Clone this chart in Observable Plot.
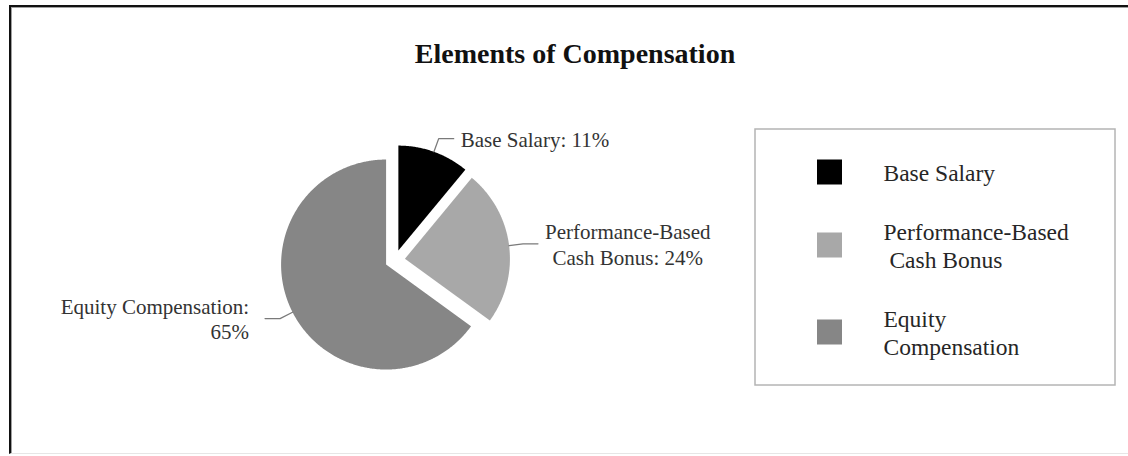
<!DOCTYPE html>
<html><head><meta charset="utf-8">
<script src="https://cdn.jsdelivr.net/npm/d3@7"></script>
<script src="https://cdn.jsdelivr.net/npm/@observablehq/plot@0.6"></script>
<style>
html,body{margin:0;padding:0;background:#fff;}
#wrap{position:relative;width:1128px;height:456px;overflow:hidden;background:#fff;}
#chart{position:absolute;left:0;top:0;}
#frame{position:absolute;left:9px;top:5px;width:1200px;height:449px;box-sizing:border-box;border-top:2px solid #111;border-left:2px solid #111;border-bottom:1px solid #e6e6e6;}
#frame2{position:absolute;left:11px;top:7px;width:1200px;height:445px;border-top:1px solid #a0a0a0;border-left:1px solid #a0a0a0;}
#title{position:absolute;left:0;width:1150px;top:38px;text-align:center;font:bold 28px/32px "Liberation Serif","Times New Roman",serif;color:#111;}
</style></head>
<body>
<div id="wrap"><div id="chart"></div><div id="frame"></div><div id="frame2"></div><div id="title">Elements of Compensation</div></div>
<script>
// ---- data ----
const categories = ["Base Salary", "Performance-Based Cash Bonus", "Equity Compensation"];
const values = [11, 24, 65];
const sliceLabels = ["Base Salary: 11%", "Performance-Based\nCash Bonus: 24%", "Equity Compensation:\n65%"];
const legendLabels = ["Base Salary", "Performance-Based\n\u00a0Cash Bonus", "Equity\nCompensation"];
const colors = ["#000000", "#a8a8a8", "#868686"];

// ---- layout / style ----
const W = 1128, H = 456;
const CX = 394.5, CY = 259.5, R = 105, EXPLODE = 10;
const LEADER_OUT = 14, LEADER_RUN = 15, GAP_R = 7, GAP_L = 16;
const LABEL_FONT = 21, LEGEND_FONT = 23.5;
const FONT = '"Liberation Serif", "Times New Roman", serif';
const LG = {x1: 755, y1: 129, x2: 1115, y2: 385, swX: 817, sw: 25, textX: 883, rowGap: 31, lineH: 28, top: 142.5};

const data = categories.map((c, i) => ({key: c, value: values[i], label: sliceLabels[i], legend: legendLabels[i]}));
const arcs = d3.pie().sort(null).value(d => d.value)(data);
const polar = (ox, oy, a, r) => [ox + r * Math.sin(a), oy - r * Math.cos(a)];

const ctx = document.createElement("canvas").getContext("2d");
ctx.font = `${LABEL_FONT}px "Liberation Serif"`;

const slicePts = [], leaderPts = [], labelRows = [];
arcs.forEach(a => {
  const key = a.data.key;
  const mid = (a.startAngle + a.endAngle) / 2;
  const [ox, oy] = polar(CX, CY, mid, EXPLODE);
  slicePts.push({key, x: ox, y: oy});
  const n = Math.max(4, Math.ceil((a.endAngle - a.startAngle) / (Math.PI / 360)));
  for (let k = 0; k <= n; k++) {
    const t = a.startAngle + (a.endAngle - a.startAngle) * k / n;
    const [x, y] = polar(ox, oy, t, R);
    slicePts.push({key, x, y});
  }
  const [sx, sy] = polar(ox, oy, mid, R);
  const [ex, ey] = polar(ox, oy, mid, R + LEADER_OUT);
  const side = Math.sin(mid) >= 0 ? 1 : -1;
  const hx = ex + side * LEADER_RUN;
  leaderPts.push({key, x: sx, y: sy}, {key, x: ex, y: ey}, {key, x: hx, y: ey});
  const lines = a.data.label.split("\n");
  const w = Math.max(...lines.map(l => ctx.measureText(l).width));
  if (side > 0) labelRows.push({side, text: a.data.label, x: hx + GAP_R + w / 2, y: ey});
  else labelRows.push({side, text: a.data.label, x: hx - GAP_L, y: ey});
});

let yy = LG.top;
const legendRows = data.map(d => {
  const nl = d.legend.split("\n").length;
  const h = nl * LG.lineH + LG.rowGap;
  const c = yy + h / 2; yy += h;
  return {...d, cy: c};
});

const chart = Plot.plot({
  width: W, height: H, margin: 0,
  x: {domain: [0, W], range: [0, W], axis: null},
  y: {domain: [0, H], range: [0, H], axis: null},
  color: {domain: categories, range: colors},
  style: {background: "transparent", fontFamily: FONT},
  marks: [
    Plot.rect([LG], {x1: "x1", x2: "x2", y1: "y1", y2: "y2", fill: "white", stroke: "#b4b4b4", strokeWidth: 1.5}),
    Plot.line(slicePts, {x: "x", y: "y", z: "key", fill: "key", stroke: "none", curve: "linear-closed"}),
    Plot.line(leaderPts, {x: "x", y: "y", z: "key", stroke: "#7a7a7a", strokeWidth: 1.3}),
    Plot.text(labelRows.filter(d => d.side > 0), {x: "x", y: "y", text: "text", textAnchor: "middle", lineHeight: 1.22, fontSize: LABEL_FONT, fill: "#333"}),
    Plot.text(labelRows.filter(d => d.side < 0), {x: "x", y: "y", text: "text", textAnchor: "end", lineHeight: 1.2, fontSize: LABEL_FONT, fill: "#333"}),
    Plot.rect(legendRows, {x1: () => LG.swX, x2: () => LG.swX + LG.sw, y1: d => d.cy - LG.sw / 2, y2: d => d.cy + LG.sw / 2, fill: "key"}),
    Plot.text(legendRows, {x: () => LG.textX, y: "cy", text: "legend", textAnchor: "start", lineHeight: LG.lineH / LEGEND_FONT, fontSize: LEGEND_FONT, fill: "#262626"})
  ]
});
document.getElementById("chart").appendChild(chart);
</script>
</body></html>
